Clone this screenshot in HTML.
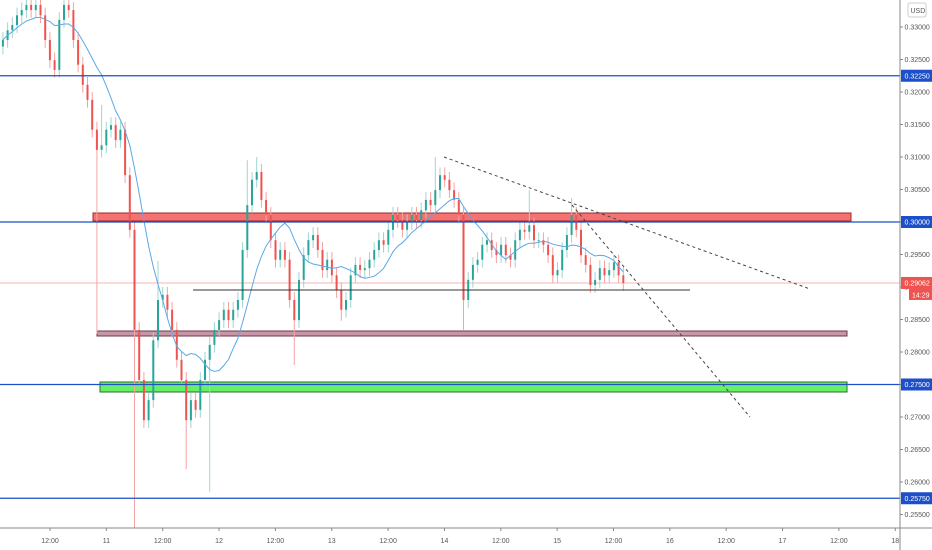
<!DOCTYPE html>
<html><head><meta charset="utf-8"><style>
body{margin:0;background:#fff;font-family:"Liberation Sans",sans-serif}
svg{display:block}
</style></head><body>
<svg id="chart" width="932" height="550" viewBox="0 0 932 550" xmlns="http://www.w3.org/2000/svg">
<rect width="932" height="550" fill="#fff"/>
<g id="zones"></g>
<g id="candles"></g>
<g id="overlay"></g>
<g id="axis"></g>
</svg>
<script>
const closes=[0.3280,0.3295,0.3303,0.3318,0.3326,0.3334,0.3326,0.3334,0.3318,0.3280,0.3249,0.3234,0.3311,0.3334,0.3326,0.3280,0.3242,0.3211,0.3188,0.3142,0.3111,0.3118,0.3142,0.3149,0.3126,0.3142,0.3072,0.2988,0.2834,0.2757,0.2695,0.2726,0.2818,0.2880,0.2888,0.2865,0.2834,0.2788,0.2757,0.2695,0.2726,0.2711,0.2757,0.2788,0.2811,0.2834,0.2849,0.2865,0.2849,0.2865,0.2880,0.2957,0.3026,0.3065,0.3077,0.3034,0.3011,0.2972,0.2942,0.2957,0.2942,0.2880,0.2849,0.2911,0.2949,0.2972,0.2980,0.2957,0.2926,0.2942,0.2918,0.2895,0.2865,0.2880,0.2918,0.2934,0.2926,0.2929,0.2942,0.2957,0.2972,0.2965,0.2988,0.3011,0.3003,0.2988,0.3000,0.3011,0.3003,0.3018,0.3034,0.3026,0.3049,0.3072,0.3065,0.3049,0.3034,0.3011,0.2880,0.2911,0.2934,0.2942,0.2965,0.2972,0.2957,0.2949,0.2965,0.2949,0.2942,0.2972,0.2988,0.2985,0.2995,0.2972,0.2972,0.2965,0.2949,0.2918,0.2926,0.2957,0.2980,0.3011,0.2988,0.2949,0.2934,0.2903,0.2911,0.2929,0.2918,0.2926,0.2938,0.2918,0.2906];
const highIdx=[5,13,21,33,52,54,92,112,121];
const highVal=[0.3360,0.3360,0.3180,0.2940,0.3095,0.3100,0.3100,0.3049,0.3037];
const lowIdx=[20,28,39,44,62,98,72];
const lowVal=[0.2828,0.2530,0.2620,0.2585,0.2780,0.2834,0.2848];
const priceTicks=[0.33,0.325,0.32,0.315,0.31,0.305,0.30,0.295,0.29,0.285,0.28,0.275,0.27,0.265,0.26,0.255];
const timeLabels=["12:00","11","12:00","12","12:00","13","12:00","14","12:00","15","12:00","16","12:00","17","12:00","18"];
const levels=[0.3225,0.30,0.275,0.2575];
const lastPrice=0.29062;
const NS="http://www.w3.org/2000/svg";
const y=p=>222-(p-0.30)*6500;
const x=i=>2.9+i*4.7;
const tx=k=>50+k*56.35;
function mk(tag,attrs,parent,txt){const e=document.createElementNS(NS,tag);for(const k in attrs)e.setAttribute(k,attrs[k]);if(txt!==undefined)e.textContent=txt;document.getElementById(parent).appendChild(e);return e;}
let e;
e=mk('rect',{x:93,y:213,width:758,height:8,fill:'#f47272',stroke:'#9b2a2a','stroke-width':1},'zones');


e=mk('rect',{x:97,y:331,width:750,height:5,fill:'#c996a8',stroke:'#6b3a4d','stroke-width':1},'zones');


e=mk('rect',{x:100,y:382,width:747,height:10,fill:'#66f066',stroke:'#2d6b2d','stroke-width':1},'zones');


e=mk('line',{x1:0,x2:900,y1:y(lastPrice),y2:y(lastPrice),stroke:'#f7b5b5','stroke-width':1},'zones');


for(let i=0;i<closes.length;i++){
  const o=i===0?0.3270:closes[i-1],c=closes[i];
  let h=Math.max(o,c)+0.0012,l=Math.min(o,c)-0.0012;
  const hi=highIdx.indexOf(i);if(hi>=0)h=highVal[hi];
  const li=lowIdx.indexOf(i);if(li>=0)l=lowVal[li];
  const up=c>=o,col=up?'#26a69a':'#ef5350',wc=up?'#9fd6cf':'#f5a3a2';
  const cx=x(i);
  e=mk('line',{x1:cx,x2:cx,y1:y(h),y2:y(l),stroke:wc,'stroke-width':1},'candles');
  
  
  const top=y(Math.max(o,c)),bh=Math.max(1,Math.abs(y(o)-y(c)));
  e=mk('rect',{x:cx-1,y:top,width:2,height:bh,fill:col},'candles');
  
  
}
let pts=[];
for(let i=0;i<closes.length;i++){const s=closes.slice(Math.max(0,i-9),i+1);const m=s.reduce((a,b)=>a+b,0)/s.length;pts.push(x(i).toFixed(1)+','+y(m).toFixed(1));}
e=mk('polyline',{points:pts.join(' '),fill:'none',stroke:'#5aa9e6','stroke-width':1},'candles');


levels.forEach(p=>{
  e=mk('line',{x1:0,x2:900,y1:y(p),y2:y(p),stroke:'#1c4fc8','stroke-width':1.3},'overlay');
  
  
});
e=mk('line',{x1:193,x2:690,y1:290,y2:290,stroke:'#333','stroke-width':1},'overlay');


e=mk('line',{x1:444,y1:157,x2:810,y2:289,stroke:'#444','stroke-width':1,'stroke-dasharray':'3,3'},'overlay');


e=mk('line',{x1:572,y1:205,x2:750,y2:417,stroke:'#444','stroke-width':1,'stroke-dasharray':'3,3'},'overlay');


e=mk('rect',{x:900,y:0,width:32,height:550,fill:'#fff'},'axis');


e=mk('rect',{x:0,y:528,width:932,height:22,fill:'#fff'},'axis');


e=mk('line',{x1:900,x2:900,y1:0,y2:550,stroke:'#888','stroke-width':1},'axis');


e=mk('line',{x1:0,x2:932,y1:528,y2:528,stroke:'#888','stroke-width':1},'axis');


priceTicks.forEach(p=>{
  mk('line',{x1:900,x2:903,y1:y(p),y2:y(p),stroke:'#888'},'axis');
  e=mk('text',{x:904.5,y:y(p)+2.5,'font-size':7,fill:'#555'},'axis',p.toFixed(5));
  
  
});
levels.forEach(p=>{
  e=mk('rect',{x:901,y:y(p)-6,width:31,height:12,fill:'#1c4fc8'},'axis');
  
  
  mk('text',{x:904.5,y:y(p)+2.5,'font-size':7,fill:'#fff'},'axis',p.toFixed(5));
});
e=mk('rect',{x:901,y:y(lastPrice)-6,width:31,height:12,fill:'#ef5350'},'axis');


mk('text',{x:904.5,y:y(lastPrice)+2.5,'font-size':7,fill:'#fff'},'axis',lastPrice.toFixed(5));
e=mk('rect',{x:909,y:y(lastPrice)+6,width:23,height:11,fill:'#ef5350'},'axis');


mk('text',{x:912,y:y(lastPrice)+14.5,'font-size':7,fill:'#fff'},'axis','14:29');
e=mk('rect',{x:908,y:3,width:18,height:14,rx:2,fill:'#fff',stroke:'#ccc'},'axis');


mk('text',{x:910.5,y:13,'font-size':7,fill:'#555'},'axis','USD');
timeLabels.forEach((t,k)=>{
  const xx=tx(k);
  mk('line',{x1:xx,x2:xx,y1:528,y2:531,stroke:'#888'},'axis');
  e=mk('text',{x:xx,y:543,'font-size':7,fill:'#555','text-anchor':'middle'},'axis',t);
  
  
});
</script>
</body></html>
